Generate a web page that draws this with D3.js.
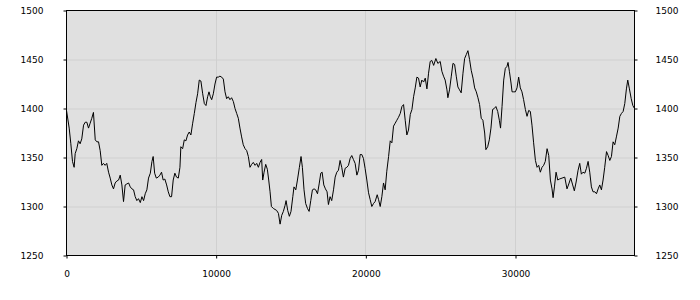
<!DOCTYPE html>
<html>
<head>
<meta charset="utf-8">
<script src="https://cdn.jsdelivr.net/npm/d3@7"></script>
<style>
  body { margin: 0; background: #fff; }
  .tick text { font-family: "DejaVu Sans", Verdana, sans-serif; font-size: 9px; fill: #000; }
</style>
</head>
<body>
<div id="chart"></div>
<script>
// x positions of the samples
var xs = [0,180,290,400,510,580,690,800,910,1020,1140,1250,1360,1470,1580,1690,1800,1920,2030,2140,
  2250,2360,2470,2580,2690,2810,2920,3030,3140,3250,3360,3480,3590,3700,3810,3920,4030,4150,4260,4370,
  4480,4590,4700,4810,4930,5040,5150,5260,5370,5480,5600,5710,5790,5890,6000,6130,6240,
  6350,6460,6570,6690,6800,6910,7020,7130,7240,7350,7470,7580,7640,7760,7870,7980,8090,8200,8310,8430,
  8540,8650,8760,8870,8980,9100,9210,9320,9430,9520,9610,9700,9810,9920,10030,10140,10250,10370,10480,
  10590,10700,10810,10920,11030,11150,11260,11370,11480,11590,11700,11810,11930,12040,12150,12260,12370,12480,
  12600,12710,12820,12930,13040,13110,13200,13310,13420,13510,13600,13690,13820,13930,14040,14160,14270,14380,
  14490,14600,14670,14780,14890,15000,15120,15200,15320,15430,15560,15670,15760,15870,15980,16100,16210,16320,
  16430,16540,16650,16770,16880,16990,17080,17190,17300,17410,17500,17610,17720,17840,17950,18060,18170,18280,
  18390,18500,18620,18730,18840,18950,
  19060,19170,19285,19400,19510,19620,19730,19840,19950,20066,20180,20290,20400,20510,20620,20760,20850,20960,
  21070,21180,21290,21400,21520,21630,21740,21850,21960,22070,22180,22300,22410,22520,22630,22740,22850,22970,
  23080,23190,23300,23410,23520,23630,23740,23860,23970,24080,24190,24300,24410,24530,24680,24810,24970,
  25080,25190,25300,25420,25480,25590,25710,25820,25930,26040,26150,26260,26370,26490,26600,26710,26820,26930,
  27040,27160,27270,27380,27490,27600,27710,27820,27940,28020,28140,28250,28360,28470,28580,28690,28810,28920,
  29000,29100,29210,29320,29430,29500,29590,29700,29770,29880,29990,30100,30210,30320,30430,30540,30660,30770,
  30880,30990,31100,31210,
  31330,31440,31550,31660,31770,31880,31990,32110,32220,32330,32440,32510,32600,32710,32820,32930,33110,33290,
  33440,33560,33690,33820,33930,34050,34180,34290,34400,34510,34630,34740,34850,34960,35070,35180,35300,35410,
  35520,35630,35740,35850,35960,36080,36190,36300,36410,36520,36630,36740,36860,36970,37080,37190,37300,37410,
  37500,37610,37730,37840,37950];

// series values
var values = [1398,1380,1364,1346,1340,1354,1359,1367,1364,1369,1383,1386,1386,1380,1385,1390,1396,1368,1366,1366,
  1357,1342,1344,1342,1344,1335,1329,1322,1318,1324,1326,1327,1332,1322,1305,1322,1323,1324,1320,1318,
  1317,1310,1306,1308,1304,1310,1306,1313,1317,1329,1334,1346,1351,1334,1329,1330,1332,
  1335,1327,1328,1322,1315,1310,1310,1327,1334,1330,1329,1340,1361,1359,1368,1367,1373,1376,1373,1385,
  1395,1406,1415,1429,1428,1415,1405,1403,1412,1417,1412,1409,1415,1425,1432,1432,1433,1432,1430,
  1417,1410,1412,1409,1411,1407,1400,1395,1390,1380,1371,1363,1359,1357,1351,1340,1343,1345,
  1342,1344,1340,1345,1348,1327,1335,1343,1338,1327,1315,1300,1298,1297,1296,1293,1282,1291,
  1295,1301,1306,1296,1290,1295,1310,1320,1317,1327,1340,1351,1340,1317,1303,1298,1295,1306,
  1317,1318,1317,1313,1323,1334,1335,1322,1318,1315,1302,1310,1306,1317,1330,1335,1337,1347,
  1340,1330,1339,1340,1342,1349,
  1352,1348,1344,1332,1337,1353,1353,1349,1339,1327,1314,1307,1300,1303,1305,1312,1307,1300,
  1310,1324,1317,1336,1351,1367,1365,1382,1385,1388,1391,1395,1402,1404,1388,1373,1378,1394,
  1399,1412,1421,1432,1431,1422,1429,1427,1431,1420,1436,1448,1449,1444,1451,1446,1448,
  1438,1433,1429,1419,1411,1419,1433,1446,1445,1433,1422,1419,1416,1436,1451,1455,1459,1450,
  1439,1431,1421,1417,1411,1404,1390,1388,1375,1358,1361,1368,1380,1399,1400,1402,1397,1388,
  1380,1402,1429,1441,1443,1447,1438,1426,1417,1417,1417,1421,1432,1421,1417,1409,1399,1392,
  1398,1397,1383,1365,
  1347,1340,1342,1335,1340,1342,1346,1359,1352,1327,1318,1309,1320,1335,1327,1328,1329,1330,
  1318,1323,1329,1322,1316,1325,1337,1344,1333,1335,1334,1339,1346,1335,1320,1315,1315,1313,
  1318,1322,1317,1327,1340,1356,1352,1347,1351,1366,1363,1371,1380,1392,1395,1397,1405,1420,
  1429,1420,1410,1403,1400];

var xTicks = [0, 10000, 20000, 30000];
var yTicks = [1250, 1300, 1350, 1400, 1450, 1500];

var margin = {top: 10.5, right: 65.5, bottom: 44.5, left: 66.5},
    width = 700 - margin.left - margin.right,
    height = 300 - margin.top - margin.bottom;

var svg = d3.select("#chart")
    .append("svg")
    .attr("width", 700)
    .attr("height", 300)
    .append("g")
    .attr("transform", "translate(" + margin.left + "," + margin.top + ")");

var x = d3.scaleLinear()
    .domain([0, d3.max(xs)])
    .range([0, width]);

var y = d3.scaleLinear()
    .domain([1250, 1500])
    .range([height, 0]);

// plot background
svg.append("rect")
    .attr("width", width)
    .attr("height", height)
    .attr("fill", "#e0e0e0");

// grid
svg.append("g")
    .selectAll("line.h")
    .data(yTicks.slice(1, -1))
    .enter().append("line")
    .attr("x1", 0).attr("x2", width)
    .attr("y1", function(d) { return Math.round(y(d)) + 0.5; })
    .attr("y2", function(d) { return Math.round(y(d)) + 0.5; })
    .attr("stroke", "#d0d0d0");

svg.append("g")
    .selectAll("line.v")
    .data(xTicks.slice(1))
    .enter().append("line")
    .attr("y1", 0).attr("y2", height)
    .attr("x1", function(d) { return Math.round(x(d)); })
    .attr("x2", function(d) { return Math.round(x(d)); })
    .attr("stroke", "#d0d0d0");

// the line
var line = d3.line()
    .x(function(d, i) { return x(xs[i]); })
    .y(function(d) { return y(d); });

svg.append("path")
    .datum(values)
    .attr("fill", "none")
    .attr("stroke", "#000")
    .attr("stroke-width", 1)
    .attr("d", line);

// frame
svg.append("rect")
    .attr("width", width)
    .attr("height", height)
    .attr("fill", "none")
    .attr("stroke", "#000");

// axes
svg.append("g")
    .attr("transform", "translate(0," + height + ")")
    .call(d3.axisBottom(x).tickValues(xTicks).tickFormat(d3.format("d")).tickSize(3).tickPadding(12))
    .call(function(g) { g.select(".domain").remove(); });

svg.append("g")
    .call(d3.axisLeft(y).tickValues(yTicks).tickFormat(d3.format("d")).tickSize(3).tickPadding(20))
    .call(function(g) { g.select(".domain").remove(); });

svg.append("g")
    .attr("transform", "translate(" + width + ",0)")
    .call(d3.axisRight(y).tickValues(yTicks).tickFormat(d3.format("d")).tickSize(3).tickPadding(18))
    .call(function(g) { g.select(".domain").remove(); });
</script>
</body>
</html>
